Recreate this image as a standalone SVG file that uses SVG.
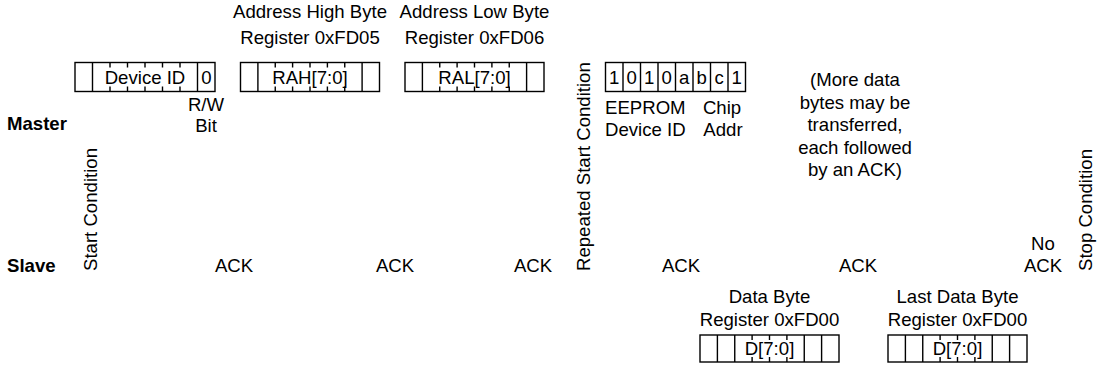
<svg xmlns="http://www.w3.org/2000/svg" width="1099" height="367" viewBox="0 0 1099 367">
<style>
text{font-family:"Liberation Sans",Arial,sans-serif;font-size:18.6px;fill:#000}
.b{font-weight:bold}
.m{text-anchor:middle}
.box{fill:#fff;stroke:#000;stroke-width:1.4}
.ln{stroke:#000;stroke-width:1.4;fill:none}
</style>
<rect width="1099" height="367" fill="#fff"/>
<g id="connectors"></g>

<g id="labels">
<text class="b" x="7" y="130">Master</text>
<text class="b" x="7" y="272">Slave</text>
<text transform="translate(97,271) rotate(-90)">Start Condition</text>
<text transform="translate(590,271) rotate(-90)">Repeated Start Condition</text>
<text transform="translate(1092,271) rotate(-90)">Stop Condition</text>
</g>

<g id="acks">
<text class="m" x="234" y="272">ACK</text>
<text class="m" x="395" y="272">ACK</text>
<text class="m" x="533" y="272">ACK</text>
<text class="m" x="681" y="272">ACK</text>
<text class="m" x="858" y="272">ACK</text>
<text class="m" x="1043" y="250">No</text>
<text class="m" x="1043" y="272">ACK</text>
</g>

<g id="device-id">
<rect class="box" x="75" y="62.5" width="140" height="29"/>
<path class="ln" d="M92.5 62.5V91.5M197.5 62.5V91.5M110 62.5v5M127.5 62.5v5M145 62.5v5M162.5 62.5v5M180 62.5v5M110 91.5v-5M127.5 91.5v-5M145 91.5v-5M162.5 91.5v-5M180 91.5v-5"/>
<text class="m" x="145" y="84">Device ID</text>
<text class="m" x="206.3" y="84">0</text>
<text class="m" x="206" y="111">R/W</text>
<text class="m" x="206" y="132">Bit</text>
</g>

<g id="rah">
<text class="m" x="310" y="18">Address High Byte</text>
<text class="m" x="310" y="44">Register 0xFD05</text>
<rect class="box" x="240.5" y="62.5" width="139" height="29"/>
<path class="ln" d="M257.9 62.5V91.5M362.1 62.5V91.5M275.25 62.5v5M292.6 62.5v5M310 62.5v5M327.4 62.5v5M344.75 62.5v5M275.25 91.5v-5M292.6 91.5v-5M310 91.5v-5M327.4 91.5v-5M344.75 91.5v-5"/>
<text class="m" x="310" y="84">RAH[7:0]</text>
</g>

<g id="ral">
<text class="m" x="474.5" y="18">Address Low Byte</text>
<text class="m" x="474.5" y="44">Register 0xFD06</text>
<rect class="box" x="405" y="62.5" width="139" height="29"/>
<path class="ln" d="M422.4 62.5V91.5M526.6 62.5V91.5M439.75 62.5v5M457.1 62.5v5M474.5 62.5v5M491.9 62.5v5M509.25 62.5v5M439.75 91.5v-5M457.1 91.5v-5M474.5 91.5v-5M491.9 91.5v-5M509.25 91.5v-5"/>
<text class="m" x="474.5" y="84">RAL[7:0]</text>
</g>

<g id="eeprom">
<rect class="box" x="605.5" y="62.5" width="140" height="29"/>
<path class="ln" d="M623 62.5V91.5M640.5 62.5V91.5M658 62.5V91.5M675.5 62.5V91.5M693 62.5V91.5M710.5 62.5V91.5M728 62.5V91.5"/>
<text class="m" x="614.25" y="84">1</text>
<text class="m" x="631.75" y="84">0</text>
<text class="m" x="649.25" y="84">1</text>
<text class="m" x="666.75" y="84">0</text>
<text class="m" x="684.25" y="84">a</text>
<text class="m" x="701.75" y="84">b</text>
<text class="m" x="719.25" y="84">c</text>
<text class="m" x="736.75" y="84">1</text>
<text x="605" y="114">EEPROM</text>
<text x="605" y="136">Device ID</text>
<text class="m" x="722" y="114">Chip</text>
<text class="m" x="723" y="136">Addr</text>
</g>

<g id="more-data-note">
<text class="m" x="855" y="86">(More data</text>
<text class="m" x="855" y="108.5">bytes may be</text>
<text class="m" x="855" y="131">transferred,</text>
<text class="m" x="855" y="153.5">each followed</text>
<text class="m" x="855" y="176">by an ACK)</text>
</g>

<g id="data-byte">
<text class="m" x="769.5" y="303">Data Byte</text>
<text class="m" x="769.5" y="326">Register 0xFD00</text>
<rect class="box" x="700" y="335" width="139" height="27"/>
<path class="ln" d="M717.4 335V362M734.75 335V362M804.25 335V362M821.6 335V362M752.1 335v5M769.5 335v5M786.9 335v5M752.1 362v-5M769.5 362v-5M786.9 362v-5"/>
<text class="m" x="769.5" y="355">D[7:0]</text>
</g>

<g id="last-data-byte">
<text class="m" x="957.5" y="303">Last Data Byte</text>
<text class="m" x="957.5" y="326">Register 0xFD00</text>
<rect class="box" x="888" y="335" width="139" height="27"/>
<path class="ln" d="M905.4 335V362M922.75 335V362M992.25 335V362M1009.6 335V362M940.1 335v5M957.5 335v5M974.9 335v5M940.1 362v-5M957.5 362v-5M974.9 362v-5"/>
<text class="m" x="957.5" y="355">D[7:0]</text>
</g>
</svg>
